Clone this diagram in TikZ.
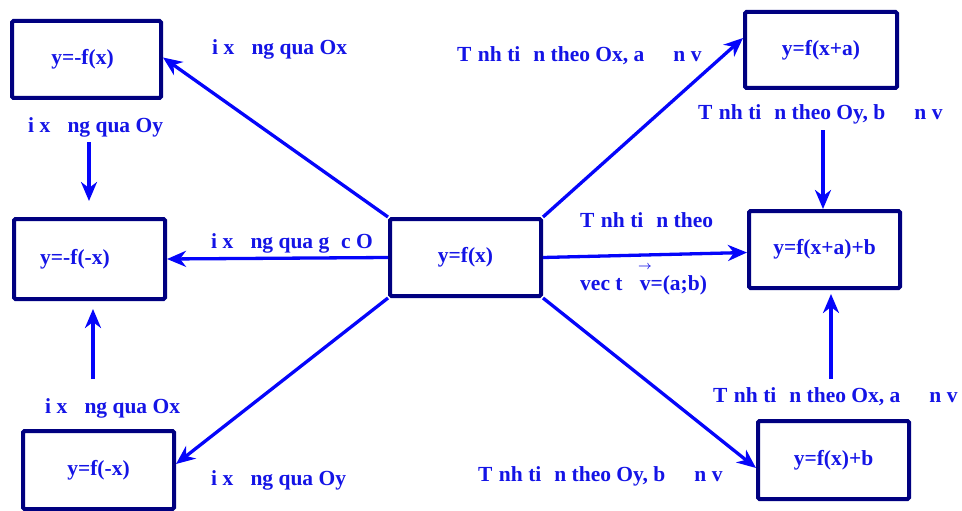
\documentclass[tikz,border=0pt]{standalone}
\usepackage{fontspec}
\setmainfont{Liberation Serif}
\usetikzlibrary{arrows.meta}
\definecolor{txtblue}{RGB}{20,20,230}
\definecolor{lnblue}{RGB}{5,5,250}
\definecolor{boxnavy}{RGB}{0,0,128}
\newcommand{\gp}[1]{\hspace{#1em}}
\newcommand{\vecv}{{\ooalign{v\cr\hidewidth\raisebox{0.95em}{\fontsize{13}{13}\selectfont\boldmath$\rightarrow$}\hidewidth\cr}}}
\begin{document}
\begin{tikzpicture}[x=1pt,y=-1pt,
  fbox/.style={draw=boxnavy,line width=4pt,rounded corners=1.5pt,inner sep=0pt,text=txtblue,
    font=\fontsize{21.5}{24}\selectfont\bfseries},
  lbl/.style={anchor=base west,inner sep=0pt,text=txtblue,font=\fontsize{21.5}{24}\selectfont\bfseries},
  arr/.style={draw=lnblue,line width=3.3pt,-{Stealth[length=19pt,width=16pt,inset=6pt]}}]
\useasboundingbox (0,0) rectangle (962,511);
% boxes
\node[fbox,minimum width=149pt,minimum height=77pt] (A) at (86.5,59.5) {y=-f(x)\kern8pt};
\node[fbox,minimum width=151pt,minimum height=80pt] (B) at (89.5,259) {y=-f(-x)\kern29pt};
\node[fbox,minimum width=151pt,minimum height=78pt] (C) at (98.5,470) {y=f(-x)};
\node[fbox,minimum width=151pt,minimum height=77pt] (M) at (465.5,257.5) {y=f(x)};
\node[fbox,minimum width=152pt,minimum height=76pt] (D) at (821,50) {y=f(x+a)};
\node[fbox,minimum width=151pt,minimum height=77pt] (E) at (824.5,249.5) {y=f(x+a)+b};
\node[fbox,minimum width=151pt,minimum height=78pt] (F) at (833.5,460) {y=f(x)+b};
% diagonal / horizontal arrows
\draw[arr] (M.north west) -- ([yshift=2pt]A.east);
\draw[arr] (M.west) -- (B.east);
\draw[arr] (M.south west) -- ([yshift=6pt]C.east);
\draw[arr] (M.north east) -- ([yshift=12pt]D.west);
\draw[arr] (M.east) -- ([yshift=-3pt]E.west);
\draw[arr] (M.south east) -- ([yshift=-8pt]F.west);
% vertical arrows
\coordinate (ab1) at (89,142); \coordinate (ab2) at (89,201);
\coordinate (cb1) at (93,379); \coordinate (cb2) at (93,309);
\coordinate (de1) at (823,130); \coordinate (de2) at (823,209);
\coordinate (fe1) at (831,379); \coordinate (fe2) at (831,294);
\draw[arr] (ab1) -- (ab2);
\draw[arr] (cb1) -- (cb2);
\draw[arr] (de1) -- (de2);
\draw[arr] (fe1) -- (fe2);
% labels
\node[lbl] (l1) at (212,55) {i x\gp{0.8}ng qua Ox};
\node[lbl] (l2) at (28,132) {i x\gp{0.8}ng qua Oy};
\node[lbl] (l3) at (211,248) {i x\gp{0.8}ng qua g\gp{0.55}c O};
\node[lbl] (l4) at (45,413) {i x\gp{0.8}ng qua Ox};
\node[lbl] (l5) at (211,485) {i x\gp{0.8}ng qua Oy};
\node[lbl] (l6) at (457,62) {T\gp{0.3}nh ti\gp{0.6}n theo Ox, a\gp{1.35}n v};
\node[lbl] (l7) at (698,119) {T\gp{0.3}nh ti\gp{0.6}n theo Oy, b\gp{1.35}n v};
\node[lbl] (l8) at (580,227) {T\gp{0.3}nh ti\gp{0.6}n theo};
\node[lbl] (l9) at (580,290) {vec t\gp{0.8}\vecv=(a;b)};
\node[lbl] (l10) at (713,402) {T\gp{0.3}nh ti\gp{0.6}n theo Ox, a\gp{1.35}n v};
\node[lbl] (l11) at (478,481) {T\gp{0.3}nh ti\gp{0.6}n theo Oy, b\gp{1.35}n v};
\end{tikzpicture}
\end{document}
